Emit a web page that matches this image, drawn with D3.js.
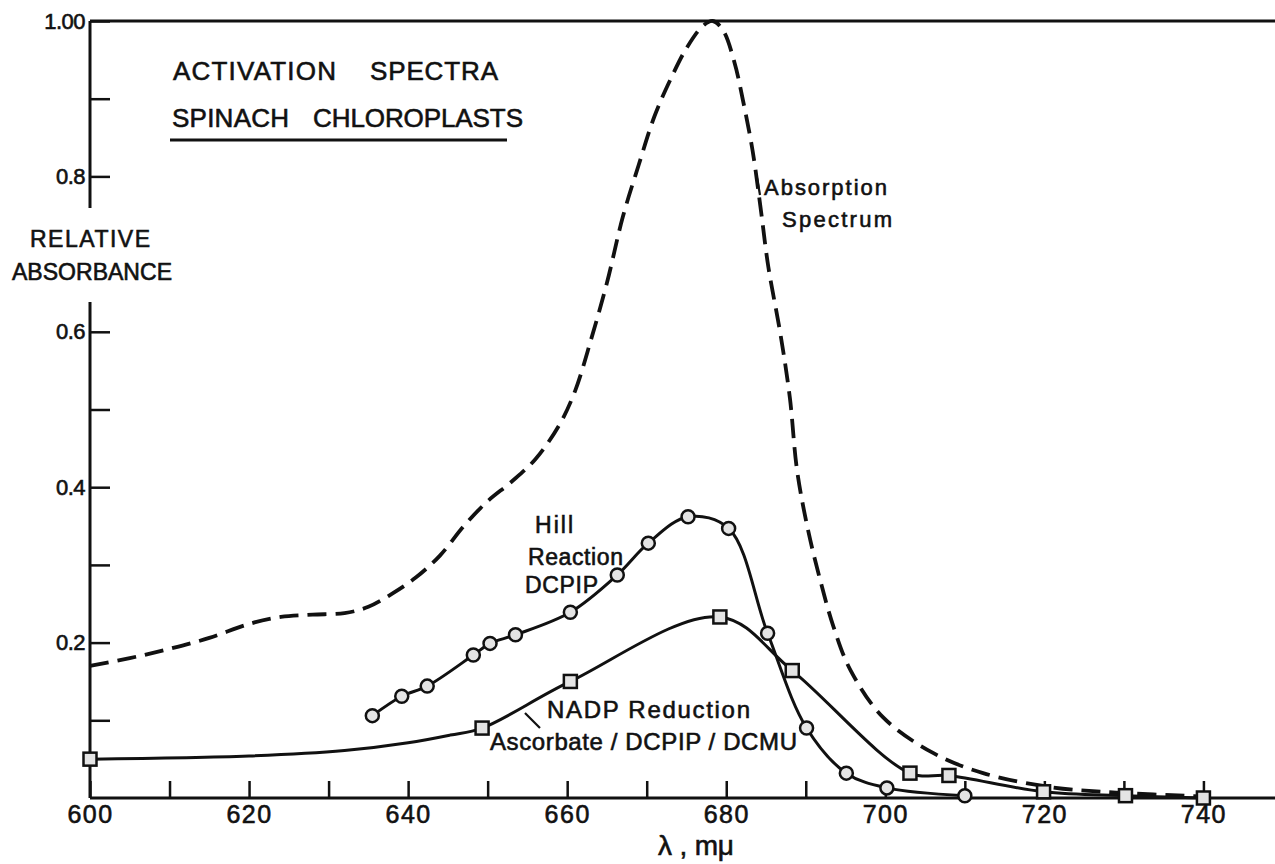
<!DOCTYPE html>
<html>
<head>
<meta charset="utf-8">
<script src="https://cdn.jsdelivr.net/npm/d3@7"></script>
<style>
  html, body { margin: 0; padding: 0; background: #fff; }
  text { font-family: "Liberation Sans", Arial, sans-serif; fill: #111; stroke: #111; stroke-width: 0.6px; }
</style>
</head>
<body>
<div id="chart"></div>
<script>
// wavelength (mu) / relative absorbance
const absorptionSpectrum = [
  [600, 0.170], [605, 0.180], [610, 0.192], [615, 0.206], [620, 0.224], [624, 0.233],
  [628, 0.236], [632, 0.238], [635, 0.246], [638, 0.263], [641, 0.284], [644, 0.312],
  [647, 0.350], [650, 0.382], [653, 0.407], [656, 0.436], [659, 0.480], [661, 0.524],
  [663, 0.590], [665, 0.663], [667, 0.748], [669, 0.815], [671, 0.878], [673, 0.925],
  [675, 0.965], [677, 0.993], [678.3, 1.0], [679.6, 0.988], [681, 0.948], [682.1, 0.898],
  [683.3, 0.834], [684.3, 0.761], [685.3, 0.683], [686.8, 0.598], [688, 0.515],
  [688.9, 0.422], [690.2, 0.349], [691.8, 0.281], [693.5, 0.220], [695.6, 0.165],
  [699.7, 0.104], [706, 0.058], [712.3, 0.032], [720.8, 0.014], [729, 0.007], [740, 0.002]
]
// measured points (drawn with markers)
const hillReaction = [
  [635.5, 0.106], [639.2, 0.131], [642.4, 0.144], [648.2, 0.184], [650.3, 0.199],
  [653.5, 0.210], [660.4, 0.239], [666.3, 0.287], [670.2, 0.328], [675.2, 0.362],
  [680.3, 0.347], [685.2, 0.212], [690.1, 0.090], [695.1, 0.032], [700.2, 0.013], [710, 0.003]
]
const nadpReduction = [
  [600, 0.050], [649.3, 0.090], [660.4, 0.150], [679.2, 0.233], [688.3, 0.164],
  [703.1, 0.032], [708, 0.029], [719.9, 0.008], [730.2, 0.003], [740, 0.0]
]
// extra points, where it has no markers
const nadpLineExtra = [[620, 0.054], [632, 0.061], [640, 0.071], [645.3, 0.081]]

const xTicks = d3.range(600, 741, 10)
const xTickLabels = [600, 620, 640, 660, 680, 700, 720, 740]
const yTicks = [0.1, 0.2, 0.3, 0.4, 0.5, 0.6, 0.8, 0.9, 1.0]
const yTickLabels = { 0.2: '0.2', 0.4: '0.4', 0.6: '0.6', 0.8: '0.8', 1.0: '1.00' }

const width = 1275
const height = 864
const margin = { left: 90, top: 21, bottom: 66 }

const svg = d3.select('#chart').append('svg')
  .attr('width', width).attr('height', height)

const x = d3.scaleLinear().domain([600, 749]).range([margin.left, width])
const y = d3.scaleLinear().domain([0, 1]).range([height - margin.bottom, margin.top])

// frame: bottom axis, top rule, left axis broken for its title
const frame = svg.append('g').attr('stroke', '#111').attr('stroke-width', 3).attr('fill', 'none')
frame.append('line').attr('x1', x(600)).attr('x2', width).attr('y1', y(0)).attr('y2', y(0))
frame.append('line').attr('x1', x(600)).attr('x2', width).attr('y1', y(1)).attr('y2', y(1))
frame.append('line').attr('x1', x(600)).attr('x2', x(600)).attr('y1', y(1)).attr('y2', 208)
frame.append('line').attr('x1', x(600)).attr('x2', x(600)).attr('y1', 302).attr('y2', y(0))

const xAxis = svg.append('g')
  .attr('transform', `translate(0,${y(0)})`)
  .call(d3.axisBottom(x).tickValues(xTicks).tickSizeInner(-17).tickSizeOuter(0).tickPadding(7)
    .tickFormat(d => xTickLabels.includes(d) ? d : ''))
xAxis.select('.domain').remove()
xAxis.selectAll('line').attr('stroke', '#111').attr('stroke-width', 2.5)
xAxis.selectAll('text').attr('font-size', 25).attr('fill', '#111')
  .style('font-family', '"Liberation Sans", Arial, sans-serif').attr('letter-spacing', 1.5)

const yAxis = svg.append('g')
  .attr('transform', `translate(${x(600)},0)`)
  .call(d3.axisLeft(y).tickValues(yTicks).tickSizeInner(-20).tickSizeOuter(0).tickPadding(5)
    .tickFormat(d => yTickLabels[d] || ''))
yAxis.select('.domain').remove()
yAxis.selectAll('line').attr('stroke', '#111').attr('stroke-width', 2.5)
yAxis.selectAll('text').attr('font-size', 22).attr('fill', '#111')
  .style('font-family', '"Liberation Sans", Arial, sans-serif').attr('letter-spacing', -0.5)

const line = d3.line()
  .x(d => x(d[0]))
  .y(d => y(d[1]))
  .curve(d3.curveCatmullRom.alpha(0.5))

svg.append('path').datum(absorptionSpectrum)
  .attr('d', line).attr('fill', 'none').attr('stroke', '#111')
  .attr('stroke-width', 3.8).attr('stroke-dasharray', '19,9')

const nadpLine = nadpReduction.concat(nadpLineExtra).sort((a, b) => a[0] - b[0])
svg.append('path').datum(nadpLine)
  .attr('d', line).attr('fill', 'none').attr('stroke', '#111').attr('stroke-width', 3)

svg.append('path').datum(hillReaction)
  .attr('d', line).attr('fill', 'none').attr('stroke', '#111').attr('stroke-width', 3)

svg.append('g').selectAll('rect').data(nadpReduction).enter().append('rect')
  .attr('x', d => x(d[0]) - 6.5).attr('y', d => y(d[1]) - 6.5)
  .attr('width', 13).attr('height', 13)
  .attr('fill', '#e4e4e4').attr('stroke', '#111').attr('stroke-width', 2.5)

svg.append('g').selectAll('circle').data(hillReaction).enter().append('circle')
  .attr('cx', d => x(d[0])).attr('cy', d => y(d[1])).attr('r', 6.5)
  .attr('fill', '#e4e4e4').attr('stroke', '#111').attr('stroke-width', 2.5)

// text
function label (str, tx, ty, size, len) {
  const t = svg.append('text').attr('x', tx).attr('y', ty).attr('font-size', size).text(str)
  if (len) t.attr('textLength', len).attr('lengthAdjust', 'spacing')
  return t
}
label('ACTIVATION', 173, 80, 26, 163)
label('SPECTRA', 370, 80, 26, 128)
label('SPINACH', 172, 127, 26, 117)
label('CHLOROPLASTS', 313, 127, 26, 210)
svg.append('line').attr('x1', 170).attr('x2', 507).attr('y1', 140).attr('y2', 140)
  .attr('stroke', '#111').attr('stroke-width', 3)

label('RELATIVE', 30, 247, 23, 120)
label('ABSORBANCE', 12, 280, 23, 160)

label('Absorption', 764, 195, 22, 123)
label('Spectrum', 782, 227, 22, 110)
label('Hill', 535, 533, 23, 38)
label('Reaction', 528, 565, 23, 95)
label('DCPIP', 525, 593, 23, 73)
label('NADP  Reduction', 547, 718, 24, 203)
label('Ascorbate / DCPIP / DCMU', 490, 750, 24, 307)
label('λ , mμ', 658, 855, 28, 76)

const leaders = svg.append('g').attr('stroke', '#111').attr('stroke-width', 2.2)
leaders.append('line').attr('x1', 757).attr('y1', 178).attr('x2', 760).attr('y2', 195)
leaders.append('line').attr('x1', 525).attr('y1', 713).attr('x2', 540).attr('y2', 728)
</script>
</body>
</html>
